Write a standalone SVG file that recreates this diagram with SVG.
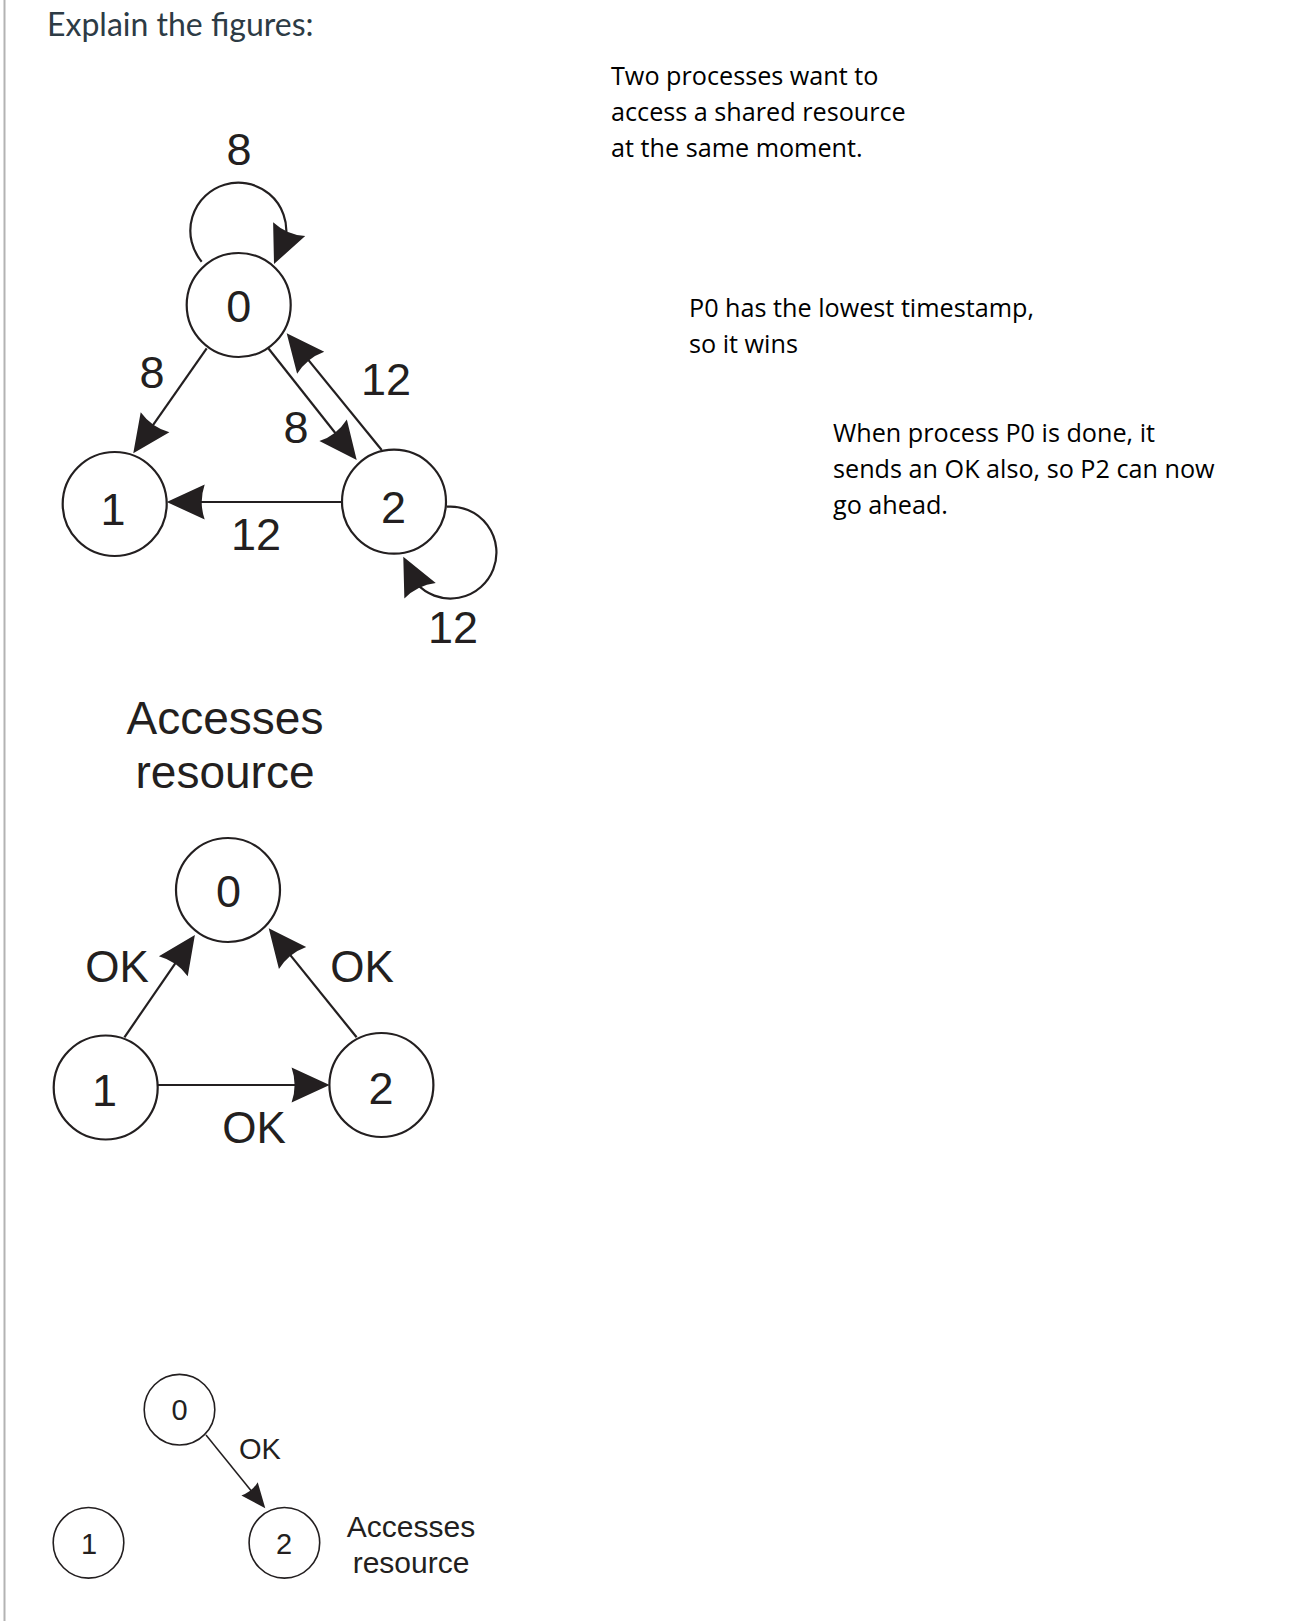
<svg xmlns="http://www.w3.org/2000/svg" width="1300" height="1621" viewBox="0 0 1300 1621">
<style>
  .node { fill: #ffffff; stroke: #231f20; stroke-width: 2.2; }
  .node3 { fill: #ffffff; stroke: #231f20; stroke-width: 1.6; }
  .edge { fill: none; stroke: #231f20; stroke-width: 2.2; }
  .edge3 { fill: none; stroke: #231f20; stroke-width: 1.5; }
  .lbl { font-family: "Liberation Sans", Arial, sans-serif; font-size: 45px; fill: #231f20; text-anchor: middle; }
  .lbl3 { font-family: "Liberation Sans", Arial, sans-serif; font-size: 29px; fill: #231f20; text-anchor: middle; }
  .note { font-family: "Open Sans", sans-serif; font-size: 25.2px; fill: #000000; }
  .title { font-family: Lato, sans-serif; font-size: 32px; fill: #2d3b45; }
</style>
<defs>
  <marker id="ah" markerUnits="userSpaceOnUse" orient="auto" viewBox="-30 -20 42 40" refX="0" refY="0" markerWidth="42" markerHeight="40" overflow="visible">
    <path d="M10,0 L-28,-17.5 Q-22,0 -28,17.5 Z" fill="#231f20"/>
  </marker>
  <marker id="ah3" markerUnits="userSpaceOnUse" orient="auto" viewBox="-22 -12 30 24" refX="0" refY="0" markerWidth="30" markerHeight="24" overflow="visible">
    <path d="M6,0 L-19,-10.5 Q-15,0 -19,10.5 Z" fill="#231f20"/>
  </marker>
</defs>
<rect x="0" y="0" width="1300" height="1621" fill="#ffffff"/>
<line x1="4.5" y1="0" x2="4.5" y2="1621" stroke="#b3b3b3" stroke-width="2"/>
<text class="title" x="47" y="36">Explain the figures:</text>

<g id="notes">
  <text class="note" x="611" y="85">Two processes want to</text>
  <text class="note" x="611" y="121">access a shared resource</text>
  <text class="note" x="611" y="157">at the same moment.</text>
  <text class="note" x="689" y="317">P0 has the lowest timestamp,</text>
  <text class="note" x="689" y="353">so it wins</text>
  <text class="note" x="833" y="442">When process P0 is done, it</text>
  <text class="note" x="833" y="478">sends an OK also, so P2 can now</text>
  <text class="note" x="833" y="514">go ahead.</text>
</g>

<g id="connectors">
  <!-- figure 1 -->
  <path class="edge" d="M201.7,261.7 A48,48 0 1 1 286,236.4 L278,254.8" marker-end="url(#ah)"/>
  <path class="edge" d="M206.7,348.3 L139,445.1" marker-end="url(#ah)"/>
  <path class="edge" d="M268.3,348.3 L350.5,452.2" marker-end="url(#ah)"/>
  <path class="edge" d="M381.7,450 L293,341.1" marker-end="url(#ah)"/>
  <path class="edge" d="M341.7,502 L176.7,502" marker-end="url(#ah)"/>
  <path class="edge" d="M446.7,506.7 A46,46 0 1 1 416.5,583.6 L407.7,565.7" marker-end="url(#ah)"/>
  <text class="lbl" x="239" y="165">8</text>
  <text class="lbl" x="152" y="388">8</text>
  <text class="lbl" x="296" y="443">8</text>
  <text class="lbl" x="386" y="395">12</text>
  <text class="lbl" x="256" y="550">12</text>
  <text class="lbl" x="453" y="643">12</text>
  <!-- figure 2 -->
  <path class="edge" d="M124.4,1037.3 L189.2,943.2" marker-end="url(#ah)"/>
  <path class="edge" d="M356.6,1037.3 L275,936.1" marker-end="url(#ah)"/>
  <path class="edge" d="M157.5,1085 L319.6,1085" marker-end="url(#ah)"/>
  <text class="lbl" x="117" y="982" style="font-size:44px">OK</text>
  <text class="lbl" x="362" y="982" style="font-size:44px">OK</text>
  <text class="lbl" x="254" y="1143" style="font-size:44px">OK</text>
  <!-- figure 3 -->
  <path class="edge3" d="M206,1435 L261.5,1503.6" marker-end="url(#ah3)"/>
  <text class="lbl3" x="260" y="1459">OK</text>
</g>

<g id="fig1-node0"><circle class="node" cx="238.7" cy="305" r="52"/><text class="lbl" x="238.7" y="321.5">0</text></g>
<g id="fig1-node1"><circle class="node" cx="114.7" cy="504" r="52"/><text class="lbl" x="113" y="524.5">1</text></g>
<g id="fig1-node2"><circle class="node" cx="394" cy="501.7" r="52"/><text class="lbl" x="393.5" y="523">2</text></g>
<g id="fig1-caption">
  <text class="lbl" x="225" y="734" style="font-size:46px">Accesses</text>
  <text class="lbl" x="225" y="788" style="font-size:46px">resource</text>
</g>

<g id="fig2-node0"><circle class="node" cx="228" cy="890" r="52"/><text class="lbl" x="228.5" y="906.5">0</text></g>
<g id="fig2-node1"><circle class="node" cx="105.7" cy="1087.5" r="52"/><text class="lbl" x="104.5" y="1106">1</text></g>
<g id="fig2-node2"><circle class="node" cx="381.4" cy="1085" r="52"/><text class="lbl" x="381" y="1104">2</text></g>

<g id="fig3-node0"><circle class="node3" cx="179.5" cy="1409.7" r="35.3"/><text class="lbl3" x="179.5" y="1420">0</text></g>
<g id="fig3-node1"><circle class="node3" cx="88.5" cy="1542.8" r="35.3"/><text class="lbl3" x="89" y="1553.5">1</text></g>
<g id="fig3-node2"><circle class="node3" cx="284.4" cy="1542.8" r="35.3"/><text class="lbl3" x="284" y="1553.5">2</text></g>
<g id="fig3-caption">
  <text class="lbl3" x="411" y="1537" style="font-size:30px">Accesses</text>
  <text class="lbl3" x="411" y="1573" style="font-size:30px">resource</text>
</g>
</svg>
